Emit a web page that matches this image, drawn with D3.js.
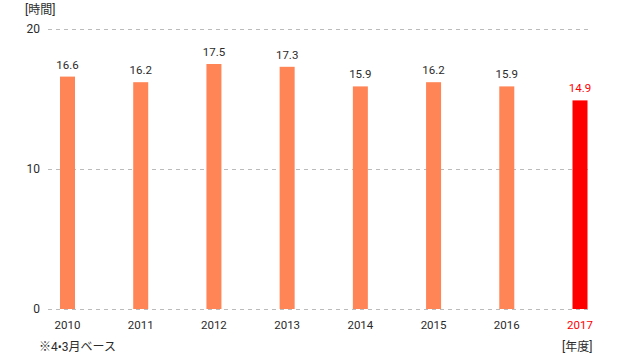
<!DOCTYPE html>
<html><head><meta charset="utf-8">
<script src="https://cdn.jsdelivr.net/npm/d3@7"></script>
<style>body{margin:0;background:#fff}svg{display:block}text{font-family:Roboto,"Noto Sans CJK JP",sans-serif}</style>
</head><body>
<svg id="c" width="640" height="356"></svg>
<script>
const years = ["2010","2011","2012","2013","2014","2015","2016","2017"];
const hours = [16.6,16.2,17.5,17.3,15.9,16.2,15.9,14.9];
const yTicks = [0,10,20];
const unitLabel = "[時間]";
const xUnitLabel = "[年度]";
const note = "※4•3月ベース";

const svg = d3.select("#c");
const x = d3.scalePoint().domain(years).range([67.5,580]);
const y = d3.scaleLinear().domain([0,20]).range([309,29]);
const base = "#FF8556", hi = "#FF0000", txt = "#2b2b2b";
const isLast = (d,i)=> i===years.length-1;

svg.append("g").selectAll("line").data(yTicks).join("line")
  .attr("x1",48).attr("x2",590).attr("y1",d=>y(d)).attr("y2",d=>y(d))
  .attr("stroke","#bbb").attr("stroke-width",1).attr("stroke-dasharray","4,4")
  .attr("shape-rendering","crispEdges");
svg.append("g").selectAll("text").data(yTicks).join("text")
  .attr("x",40).attr("y",d=>y(d)+4).attr("text-anchor","end")
  .attr("font-size",12).attr("fill",txt).text(d=>d);
const bw = 15;
svg.append("g").selectAll("rect").data(hours).join("rect")
  .attr("x",(d,i)=>x(years[i])-bw/2).attr("width",bw)
  .attr("y",d=>y(d)).attr("height",d=>y(0)-y(d))
  .attr("fill",(d,i)=>isLast(d,i)?hi:base);
svg.append("g").selectAll("text").data(hours).join("text")
  .attr("x",(d,i)=>x(years[i])).attr("y",d=>y(d)-8).attr("text-anchor","middle")
  .attr("font-size",11.5).attr("fill",(d,i)=>isLast(d,i)?hi:txt).text(d=>d.toFixed(1));
svg.append("g").selectAll("text").data(years).join("text")
  .attr("x",d=>x(d)).attr("y",329).attr("text-anchor","middle")
  .attr("font-size",11.5).attr("fill",(d,i)=>isLast(d,i)?hi:txt).text(d=>d);
svg.append("text").attr("x",25).attr("y",14).attr("font-size",12).attr("fill",txt).text(unitLabel);
svg.append("text").attr("x",562).attr("y",351).attr("font-size",12).attr("fill",txt).text(xUnitLabel);
svg.append("text").attr("x",39).attr("y",351).attr("font-size",12).attr("fill",txt).text(note);
</script>
</body></html>
